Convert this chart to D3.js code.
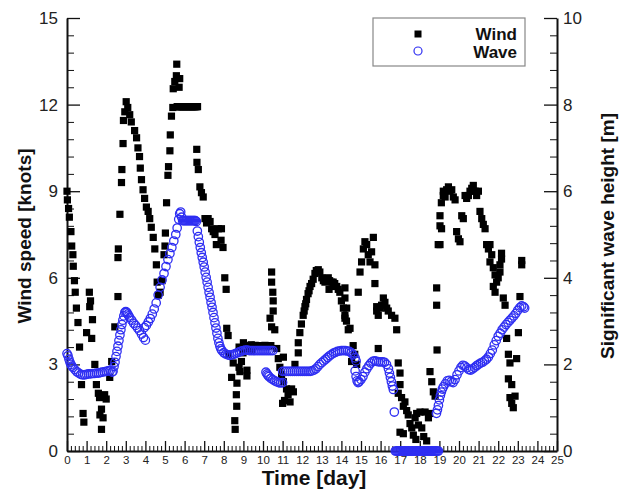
<!DOCTYPE html>
<html>
<head>
<meta charset="utf-8">
<script src="https://cdn.jsdelivr.net/npm/d3@7"></script>
<style>
  body { margin: 0; background: #fff; }
  text { font-family: "Liberation Sans", Arial, sans-serif; }
</style>
</head>
<body>
<div id="chart"></div>
<script>
// Tick values
const dayTicks = [0,1,2,3,4,5,6,7,8,9,10,11,12,13,14,15,16,17,18,19,20,21,22,23,24,25];
const windTicks = [0, 3, 6, 9, 12, 15];
const waveTicks = [0, 2, 4, 6, 8, 10];

// Wind speed [knots]: [day, knots]
const windPoints = [
  [0,9.0],[0.02,8.7],[0.08,8.4],[0.12,8.1],[0.2,7.6],[0.24,7.1],[0.3,6.8],[0.32,6.4],[0.38,5.9],[0.42,5.5],
  [0.48,4.95],[0.56,4.45],[0.64,3.6],[0.74,2.3],[0.82,1.3],[0.86,1.0],
  [1.0,4.1],[1.14,5.5],[1.2,5.2],[1.16,5.0],[1.3,4.55],[1.26,3.9],[1.42,3.0],[1.5,2.3],[1.6,2.0],[1.66,1.85],
  [1.68,1.25],[1.76,1.45],[1.76,0.75],[1.84,1.15],[1.92,1.95],[2.0,1.8],[2.18,2.55],[2.28,3.1],
  [2.44,4.3],[2.6,5.35],[2.6,6.7],[2.62,7.0],[2.7,8.2],[2.78,9.3],[2.8,9.75],[2.86,10.65],[2.88,11.45],[2.95,11.75],
  [3.02,12.1],[3.1,11.9],[3.2,11.65],[3.28,11.4],[3.45,11.1],[3.55,10.85],[3.62,10.5],[3.7,10.2],[3.74,9.8],[3.8,9.4],
  [3.88,9.05],[3.96,8.75],[4.05,8.45],[4.14,8.3],[4.22,8.05],[4.3,7.75],[4.4,7.4],[4.48,7.0],[4.56,6.45],[4.6,5.85],[4.66,5.4],
  [4.75,5.5],[4.85,5.9],[4.95,6.8],[5.0,7.1],[5.02,7.55],[5.08,8.6],[5.15,9.55],[5.18,9.85],[5.25,10.4],[5.27,10.95],
  [5.33,11.6],[5.4,11.9],[5.42,12.55],[5.5,12.8],[5.58,13.0],[5.6,13.4],[5.72,12.6],[5.75,12.9],
  [5.62,11.93],[5.66,11.93],[5.7,11.93],[5.74,11.93],[5.78,11.93],[5.82,11.93],[5.86,11.93],[5.9,11.93],[5.94,11.93],
  [5.98,11.93],[6.02,11.93],[6.06,11.93],[6.1,11.93],[6.14,11.93],[6.18,11.93],[6.22,11.93],[6.26,11.93],[6.3,11.93],
  [6.34,11.93],[6.38,11.93],[6.42,11.93],[6.46,11.93],[6.5,11.93],[6.54,11.93],[6.58,11.93],[6.62,11.93],[6.66,11.93],
  [6.62,10.45],[6.63,10.0],[6.7,9.75],[6.78,9.15],[6.86,8.95],[6.95,8.8],[7.04,8.05],[7.12,7.9],[7.2,8.05],[7.3,7.95],
  [7.38,7.7],[7.46,7.6],[7.55,7.5],[7.62,7.15],[7.72,7.7],[7.88,7.7],[7.86,7.3],[7.96,7.05],[8.05,6.0],[8.12,5.6],
  [8.15,4.25],[8.22,4.0],[8.24,3.35],[8.4,2.55],[8.48,3.05],[8.56,1.05],[8.58,0.75],[8.64,1.95],[8.66,1.55],
  [8.67,2.35],[8.78,2.9],[8.78,3.6],[8.82,2.75],[8.9,3.1],[8.98,3.4],[9.0,3.75],[9.18,2.8],[9.18,2.6],[9.25,3.55],[9.42,3.45],
  [9.3,3.65],[9.4,3.68],[9.5,3.65],[9.6,3.66],[9.7,3.65],[9.8,3.64],[9.9,3.65],[10.0,3.65],[10.1,3.66],[10.2,3.65],
  [10.3,3.64],[10.4,3.65],
  [10.36,4.6],[10.44,6.2],[10.44,5.85],[10.5,5.5],[10.52,5.2],[10.52,4.85],[10.44,4.3],[10.6,4.2],[10.7,3.55],
  [10.78,3.2],[10.86,2.9],[11.04,3.25],[10.95,2.65],[11.04,2.4],[11.0,1.65],[11.1,1.75],[11.2,2.15],[11.28,1.95],
  [11.38,1.7],[11.46,2.15],[11.55,2.05],
  [11.63,3.0],[11.8,3.4],[11.8,3.75],[11.88,4.1],[11.96,4.4],[12.05,4.7],[12.1,4.85],[12.14,5.0],[12.18,5.1],
  [12.22,5.25],[12.3,5.45],[12.35,5.55],[12.4,5.7],[12.48,5.8],[12.56,5.95],[12.65,6.15],[12.72,6.25],[12.82,6.28],
  [12.9,6.2],[13.0,6.0],[13.08,5.9],[13.16,5.85],[13.25,5.95],[13.33,6.0],[13.37,5.6],[13.4,5.9],[13.5,5.85],
  [13.57,5.7],[13.58,5.85],[13.66,5.8],[13.76,5.7],[13.84,5.6],[13.92,5.5],[14.0,5.2],[14.1,4.95],[14.18,4.7],
  [14.26,4.5],[14.35,4.2],[14.18,5.65],[14.18,5.3],[14.27,4.95],[14.18,4.6],[14.44,4.25],[14.6,3.65],[14.68,3.35],
  [14.52,3.1],[14.78,3.0],
  [14.86,5.5],[14.95,6.2],[15.03,6.55],[15.12,7.0],[15.2,7.25],[15.29,7.15],[15.37,6.8],[15.46,6.55],[15.54,6.9],
  [15.63,7.4],[15.71,6.45],[15.71,5.8],[15.8,4.85],[15.8,5.0],[15.88,4.7],[15.88,3.55],[15.97,4.95],[16.05,5.05],
  [16.14,5.3],[16.22,5.15],[16.31,4.95],[16.39,4.85],[16.56,4.7],[16.73,4.6],[16.82,4.2],
  [16.9,3.05],[16.99,2.7],[16.99,2.3],[16.9,2.0],[17.07,1.85],[17.24,1.7],[17.16,1.55],[17.33,1.4],[17.41,1.25],
  [16.99,0.65],[17.16,0.6],[17.5,0.95],[17.59,0.8],[17.67,0.55],[17.76,1.15],[17.8,0.4],[17.84,1.3],[17.93,0.9],
  [18.01,1.35],[18.1,0.8],[18.2,0.5],[18.27,1.35],[18.35,0.35],[18.44,1.15],[18.5,1.3],
  [18.52,2.75],[18.61,2.4],[18.69,2.05],[18.78,1.9],[18.88,3.5],[18.86,5.05],[18.86,5.65],[18.94,7.15],[19.03,7.8],
  [19.03,8.15],[19.1,8.6],[19.2,8.85],[19.11,7.7],[19.03,7.15],
  [19.2,9.0],[19.29,8.8],[19.37,9.05],[19.46,9.15],[19.54,9.0],[19.63,9.05],[19.71,8.8],[19.8,8.7],[19.88,7.6],
  [19.97,7.35],[20.05,7.25],[20.14,8.15],[20.22,8.05],[20.31,8.85],[20.39,8.75],[20.48,8.85],[20.56,9.0],[20.65,9.1],
  [20.73,9.2],[20.82,9.0],[20.9,8.85],[20.99,9.0],[21.07,8.3],[21.16,8.05],[21.24,7.85],[21.33,7.7],[21.41,7.15],
  [21.5,7.0],[21.58,7.15],[21.58,6.55],[21.67,6.8],[21.75,6.35],[21.84,6.1],[21.92,5.85],[22.0,6.0],[22.09,6.2],
  [22.17,6.65],[22.17,6.85],[22.09,6.45],[21.75,5.7],[21.84,5.5],[22.26,5.3],[22.35,5.05],[22.43,3.9],[22.52,3.35],
  [22.6,3.05],[22.52,2.5],[22.69,2.3],[22.6,1.85],[22.69,1.65],[22.77,1.5],[22.86,1.9],[22.94,3.2],[23.03,4.1],
  [23.11,5.35],[23.2,6.45],[23.2,6.6]
];

// Significant wave height [m]: [day, metres]
const wavePoints = [
  [0,2.25],[0.05,2.2],[0.1,2.12],[0.15,2.05],[0.2,2.0],[0.25,1.96],[0.3,1.93],[0.4,1.88],[0.5,1.83],[0.6,1.8],
  [0.7,1.77],[0.8,1.76],[0.9,1.76],[1.0,1.77],[1.1,1.78],[1.2,1.78],[1.3,1.79],[1.4,1.79],[1.5,1.8],[1.6,1.8],
  [1.7,1.81],[1.8,1.82],[1.9,1.83],[2.0,1.84],[2.1,1.85],[2.2,1.86],[2.3,1.82],[2.35,1.84],[2.4,1.95],[2.45,2.05],
  [2.5,2.18],[2.55,2.3],[2.6,2.42],[2.65,2.55],[2.7,2.68],[2.75,2.8],[2.8,2.92],[2.85,3.02],[2.9,3.12],[2.95,3.2],
  [3.0,3.22],[3.05,3.2],[3.1,3.16],[3.15,3.12],[3.2,3.08],[3.3,3.02],[3.4,2.95],[3.5,2.9],[3.6,2.84],[3.7,2.78],
  [3.8,2.7],[3.9,2.62],[4.0,2.56],
  [3.95,2.85],[4.05,2.9],[4.15,2.98],[4.25,3.06],[4.35,3.16],[4.45,3.28],[4.55,3.42],[4.65,3.6],[4.75,3.78],
  [4.85,3.95],[4.95,4.1],[5.05,4.26],[5.15,4.42],[5.25,4.56],[5.35,4.7],[5.45,4.85],[5.55,5.0],[5.62,5.15],
  [5.7,5.35],[5.75,5.48],[5.8,5.52],[5.85,5.4],
  [5.9,5.32],[5.95,5.32],[6.0,5.32],[6.05,5.32],[6.1,5.32],[6.15,5.32],[6.2,5.32],[6.25,5.32],[6.3,5.32],
  [6.35,5.32],[6.4,5.32],[6.45,5.32],[6.5,5.32],[6.55,5.32],[6.6,5.3],
  [6.65,5.08],[6.7,4.95],[6.75,4.82],[6.8,4.7],[6.85,4.58],[6.9,4.47],[6.95,4.36],[7.0,4.25],[7.05,4.13],[7.1,4.01],
  [7.15,3.9],[7.2,3.78],[7.25,3.66],[7.3,3.55],[7.35,3.43],[7.4,3.32],[7.45,3.2],[7.5,3.08],[7.55,2.96],[7.6,2.84],
  [7.65,2.72],[7.7,2.6],[7.75,2.5],[7.8,2.42],[7.85,2.36],[7.9,2.32],[8.0,2.27],[8.1,2.24],[8.2,2.22],[8.3,2.21],
  [8.4,2.22],[8.5,2.23],[8.6,2.25],[8.7,2.27],[8.8,2.29],[8.9,2.31],[9.0,2.32],
  [9.1,2.33],[9.2,2.33],[9.3,2.32],[9.4,2.32],[9.5,2.32],[9.6,2.32],[9.7,2.32],[9.8,2.32],[9.9,2.32],[10.0,2.32],
  [10.1,2.32],[10.2,2.32],[10.3,2.32],[10.4,2.32],[10.5,2.32],
  [10.15,1.82],[10.2,1.78],[10.25,1.75],[10.3,1.72],[10.4,1.68],[10.5,1.65],[10.6,1.62],[10.7,1.6],[10.8,1.58],
  [10.9,1.57],[11.0,1.58],
  [11.0,1.84],[11.1,1.84],[11.2,1.84],[11.3,1.84],[11.4,1.84],[11.5,1.84],[11.6,1.84],[11.7,1.84],[11.8,1.84],
  [11.9,1.84],[12.0,1.84],[12.1,1.84],[12.2,1.84],[12.3,1.84],[12.4,1.84],[12.5,1.85],
  [12.6,1.87],[12.7,1.9],[12.8,1.95],[12.9,2.0],[13.0,2.04],[13.1,2.08],[13.2,2.12],[13.3,2.16],[13.4,2.2],
  [13.5,2.23],[13.6,2.26],[13.7,2.28],[13.8,2.3],[13.9,2.31],[14.0,2.32],[14.1,2.32],[14.2,2.32],[14.3,2.31],
  [14.4,2.3],[14.5,2.27],[14.6,2.22],[14.7,2.15],[14.75,2.08],
  [14.7,1.85],[14.75,1.72],[14.8,1.62],[14.85,1.58],[14.9,1.6],[15.0,1.65],[15.1,1.72],[15.2,1.82],[15.3,1.9],
  [15.4,1.97],[15.5,2.03],[15.6,2.07],[15.7,2.08],[15.8,2.07],[15.9,2.06],[16.0,2.06],[16.1,2.06],[16.2,2.05],
  [16.3,2.0],[16.4,1.9],[16.45,1.8],[16.5,1.7],[16.55,1.6],[16.6,1.5],[16.65,1.42],[16.7,0.9],
  [16.75,0],[16.8,0],[16.85,0],[16.9,0],[16.95,0],[17.0,0],[17.05,0],[17.1,0],[17.15,0],[17.2,0],[17.25,0],
  [17.3,0],[17.35,0],[17.4,0],[17.45,0],[17.5,0],[17.55,0],[17.6,0],[17.65,0],[17.7,0],[17.75,0],[17.8,0],
  [17.85,0],[17.9,0],[17.95,0],[18.0,0],[18.05,0],[18.1,0],[18.15,0],[18.2,0],[18.25,0],[18.3,0],[18.35,0],
  [18.4,0],[18.45,0],[18.5,0],[18.55,0],[18.6,0],[18.65,0],[18.7,0],[18.75,0],[18.8,0],[18.85,0],[18.9,0],[18.95,0],
  [18.85,0.87],[18.9,0.95],[18.95,1.05],[19.0,1.18],[19.05,1.28],[19.1,1.36],[19.15,1.43],[19.2,1.48],[19.3,1.55],
  [19.4,1.62],[19.5,1.63],[19.6,1.6],[19.7,1.58],[19.8,1.65],[19.9,1.76],[20.0,1.85],[20.1,1.93],[20.2,1.98],
  [20.3,1.96],[20.4,1.92],[20.5,1.88],[20.6,1.87],[20.7,1.9],[20.8,1.93],[20.9,1.97],[21.0,2.0],[21.1,2.03],
  [21.2,2.05],[21.3,2.08],[21.4,2.12],[21.5,2.17],[21.6,2.25],[21.7,2.33],[21.8,2.45],[21.9,2.55],[22.0,2.65],
  [22.1,2.72],[22.2,2.8],[22.3,2.86],[22.4,2.92],[22.5,2.97],[22.6,3.02],[22.7,3.07],[22.8,3.12],[22.9,3.18],
  [23.0,3.25],[23.1,3.31],[23.2,3.35],[23.3,3.33],[23.35,3.3]
];

const width = 624, height = 492;
const plot = { left: 67, right: 557, top: 18, bottom: 451 };
const waveColor = "#2e2ef2";

const svg = d3.select("#chart").append("svg")
    .attr("width", width)
    .attr("height", height);

const x = d3.scaleLinear().domain([0, 25]).range([plot.left, plot.right]);
const yWind = d3.scaleLinear().domain([0, 15]).range([plot.bottom, plot.top]);
const yWave = d3.scaleLinear().domain([0, 10]).range([plot.bottom, plot.top]);

// minor ticks
const dayMinor = d3.range(0, 25.001, 0.2).filter(d => Math.abs(d - Math.round(d)) > 1e-6);
const windMinor = d3.range(0, 15.001, 0.6).filter(d => Math.abs(d / 3 - Math.round(d / 3)) > 1e-6);
const waveMinor = d3.range(0, 10.001, 0.4).filter(d => Math.abs(d / 2 - Math.round(d / 2)) > 1e-6);

function styleAxis(g, fontSize) {
    g.select(".domain").attr("stroke", "#111").attr("stroke-width", 2);
    g.selectAll(".tick line").attr("stroke", "#111").attr("stroke-width", 1.3);
    g.selectAll(".tick text")
        .attr("fill", "#222")
        .style("font-size", fontSize + "px")
        .style("font-family", "'Liberation Sans', Arial, sans-serif");
}

// minor tick axes first (no labels)
svg.append("g")
    .attr("transform", `translate(0,${plot.bottom})`)
    .call(d3.axisBottom(x).tickValues(dayMinor).tickSizeInner(-5).tickSizeOuter(0).tickFormat(""))
    .call(g => { g.select(".domain").remove(); g.selectAll("line").attr("stroke", "#111").attr("stroke-width", 1); });

svg.append("g")
    .attr("transform", `translate(${plot.left},0)`)
    .call(d3.axisLeft(yWind).tickValues(windMinor).tickSizeInner(-7).tickSizeOuter(0).tickFormat(""))
    .call(g => { g.select(".domain").remove(); g.selectAll("line").attr("stroke", "#111").attr("stroke-width", 1); });

svg.append("g")
    .attr("transform", `translate(${plot.right},0)`)
    .call(d3.axisRight(yWave).tickValues(waveMinor).tickSizeInner(-7).tickSizeOuter(0).tickFormat(""))
    .call(g => { g.select(".domain").remove(); g.selectAll("line").attr("stroke", "#111").attr("stroke-width", 1); });

// major axes
svg.append("g")
    .attr("transform", `translate(0,${plot.bottom})`)
    .call(d3.axisBottom(x).tickValues(dayTicks).tickSizeInner(-10).tickSizeOuter(0).tickPadding(5))
    .call(g => styleAxis(g, 11.5));

svg.append("g")
    .attr("transform", `translate(${plot.left},0)`)
    .call(d3.axisLeft(yWind).tickValues(windTicks).tickSizeInner(-13).tickSizeOuter(0).tickPadding(9))
    .call(g => styleAxis(g, 17));

svg.append("g")
    .attr("transform", `translate(${plot.right},0)`)
    .call(d3.axisRight(yWave).tickValues(waveTicks).tickSizeInner(-13).tickSizeOuter(0).tickPadding(6))
    .call(g => styleAxis(g, 17));

// axis titles
svg.append("text")
    .attr("x", 314).attr("y", 485)
    .attr("text-anchor", "middle")
    .style("font-size", "21px").style("font-weight", "bold")
    .attr("fill", "#111")
    .text("Time [day]");

svg.append("text")
    .attr("transform", "translate(31,236) rotate(-90)")
    .attr("text-anchor", "middle")
    .style("font-size", "19px").style("font-weight", "bold")
    .attr("fill", "#111")
    .text("Wind speed [knots]");

svg.append("text")
    .attr("transform", "translate(614,236) rotate(-90)")
    .attr("text-anchor", "middle")
    .style("font-size", "19px").style("font-weight", "bold")
    .attr("fill", "#111")
    .text("Significant wave height [m]");

// wind squares
const sq = 7.2;
svg.append("g").selectAll("rect")
    .data(windPoints)
    .join("rect")
    .attr("x", d => x(d[0]) - sq / 2)
    .attr("y", d => yWind(d[1]) - sq / 2)
    .attr("width", sq)
    .attr("height", sq)
    .attr("fill", "#000");

// wave circles
svg.append("g").selectAll("circle")
    .data(wavePoints)
    .join("circle")
    .attr("cx", d => x(d[0]))
    .attr("cy", d => yWave(d[1]))
    .attr("r", 4.2)
    .attr("fill", "none")
    .attr("stroke", waveColor)
    .attr("stroke-width", 1.3);

// legend
const legend = svg.append("g");
legend.append("rect")
    .attr("x", 373).attr("y", 18).attr("width", 152).attr("height", 48)
    .attr("fill", "#fff").attr("stroke", "#888").attr("stroke-width", 1.2);
legend.append("rect")
    .attr("x", 418 - 3.5).attr("y", 34 - 3.5).attr("width", 7).attr("height", 7)
    .attr("fill", "#000");
legend.append("circle")
    .attr("cx", 418).attr("cy", 51).attr("r", 4)
    .attr("fill", "none").attr("stroke", waveColor).attr("stroke-width", 1.2);
legend.append("text")
    .attr("x", 517).attr("y", 34).attr("dy", "0.35em")
    .attr("text-anchor", "end")
    .style("font-size", "17px").style("font-weight", "bold")
    .attr("fill", "#111")
    .text("Wind");
legend.append("text")
    .attr("x", 517).attr("y", 52).attr("dy", "0.35em")
    .attr("text-anchor", "end")
    .style("font-size", "17px").style("font-weight", "bold")
    .attr("fill", "#111")
    .text("Wave");
</script>
</body>
</html>
